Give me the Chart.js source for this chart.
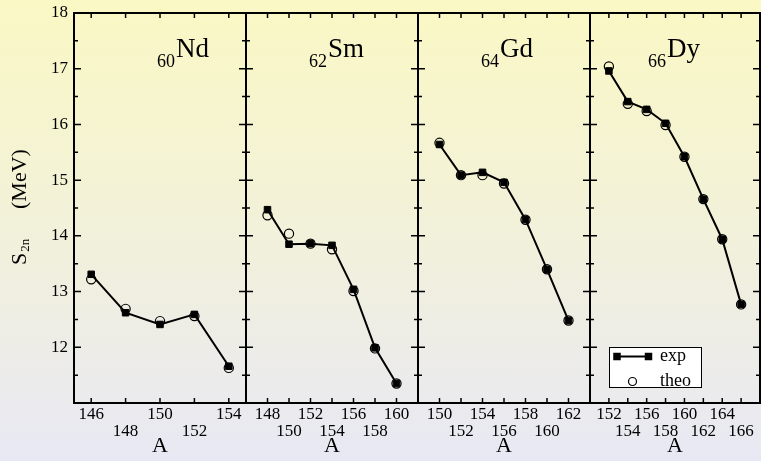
<!DOCTYPE html>
<html><head><meta charset="utf-8">
<script src="https://cdn.jsdelivr.net/npm/chart.js@4/dist/chart.umd.min.js"></script>
<style>
html,body{margin:0;padding:0;width:761px;height:461px;overflow:hidden;}
body{background:linear-gradient(to bottom,#faf8c4 0%,#f2f1da 50%,#e8e8f4 100%);position:relative;}
canvas{position:absolute;left:0;top:0;}
</style></head><body>
<canvas id="c1" width="761" height="461"></canvas>
<canvas id="c2" width="761" height="461"></canvas>
<canvas id="c3" width="761" height="461"></canvas>
<canvas id="c4" width="761" height="461"></canvas>
<script>
// ---- data ----
const ndA = [146,148,150,152,154];
const ndExp = [13.31,12.62,12.41,12.59,11.66];
const ndTheo = [13.22,12.69,12.47,12.56,11.63];
const smA = [148,150,152,154,156,158,160];
const smExp = [14.47,13.85,13.86,13.83,13.04,11.99,11.35];
const smTheo = [14.37,14.04,13.86,13.76,13.01,11.98,11.35];
const gdA = [150,152,154,156,158,160,162];
const gdExp = [15.64,15.09,15.14,14.96,14.29,13.40,12.48];
const gdTheo = [15.67,15.09,15.09,14.94,14.29,13.40,12.48];
const dyA = [152,154,156,158,160,162,164,166];
const dyExp = [16.96,16.41,16.27,16.02,15.42,14.66,13.94,12.77];
const dyTheo = [17.04,16.37,16.24,15.99,15.42,14.66,13.94,12.77];
// ---- ticks ----
const ndTicks = [146,148,150,152,154];
const smTicks = [148,150,152,154,156,158,160];
const gdTicks = [150,152,154,156,158,160,162];
const dyTicks = [152,154,156,158,160,162,164,166];
const yTicks = [12,13,14,15,16,17,18];
const yMinorTicks = [11.5,12.5,13.5,14.5,15.5,16.5,17.5];
const elemSubs = ['60','62','64','66'];
const elemSyms = ['Nd','Sm','Gd','Dy'];
const yTitleMain = 'S', yTitleSub = '2n', yTitleUnit = '(MeV)';
const xTitle = 'A';
const legendLabels = ['exp','theo'];

const FONT = "'Liberation Serif','Times New Roman',serif";

const panels = [
  {id:'c1', A:ndA, exp:ndExp, theo:ndTheo, ticks:ndTicks, min:145, max:155, padL:0, padR:515, labelDx:83, yAxis:true},
  {id:'c2', A:smA, exp:smExp, theo:smTheo, ticks:smTicks, min:146, max:162, padL:246, padR:343, labelDx:63},
  {id:'c3', A:gdA, exp:gdExp, theo:gdTheo, ticks:gdTicks, min:148, max:164, padL:418, padR:171, labelDx:63},
  {id:'c4', A:dyA, exp:dyExp, theo:dyTheo, ticks:dyTicks, min:150, max:168, padL:590, padR:1, labelDx:58, legend:true}
];

function drawSquare(ctx,x,y,s){ctx.fillRect(x-s/2,y-s/2,s,s);}

const framePlugin = {
  id:'frame',
  afterDraw(chart, args, o){
    const ctx = chart.ctx;
    const {left,right,top,bottom} = chart.chartArea;
    const xs = chart.scales.x, ys = chart.scales.y;
    ctx.save();
    ctx.strokeStyle = '#000';
    ctx.lineWidth = 1.5;
    ctx.beginPath();
    o.ticks.forEach(v=>{
      const px = xs.getPixelForValue(v);
      ctx.moveTo(px,bottom); ctx.lineTo(px,bottom-5);
      ctx.moveTo(px,top); ctx.lineTo(px,top+5);
    });
    yTicks.forEach(v=>{
      const py = ys.getPixelForValue(v);
      ctx.moveTo(left,py); ctx.lineTo(left+7,py);
      ctx.moveTo(right,py); ctx.lineTo(right-7,py);
    });
    yMinorTicks.forEach(v=>{
      const py = ys.getPixelForValue(v);
      ctx.moveTo(left,py); ctx.lineTo(left+4,py);
      ctx.moveTo(right,py); ctx.lineTo(right-4,py);
    });
    ctx.stroke();
    ctx.lineWidth = 2;
    ctx.strokeRect(left,top,right-left,bottom-top);
    // element label
    ctx.fillStyle = '#000';
    ctx.textBaseline = 'alphabetic';
    ctx.textAlign = 'left';
    const lx = left + o.labelDx;
    ctx.font = '18px ' + FONT;
    const subW = ctx.measureText(o.sub).width;
    ctx.fillText(o.sub, lx, 67);
    ctx.font = '27px ' + FONT;
    ctx.fillText(o.sym, lx + subW + 1, 57);
    // y title
    if (o.yAxis){
      ctx.save();
      ctx.translate(26, 265);
      ctx.rotate(-Math.PI/2);
      ctx.font = '22px ' + FONT;
      ctx.fillText(yTitleMain, 0, 0);
      const sw = ctx.measureText(yTitleMain).width;
      ctx.font = '13px ' + FONT;
      ctx.fillText(yTitleSub, sw + 1, 3);
      ctx.font = '22px ' + FONT;
      ctx.fillText(yTitleUnit, 56, 0);
      ctx.restore();
    }
    // legend
    if (o.legend){
      const bx = 609, by = 347, bw = 92, bh = 40;
      ctx.fillStyle = '#fff';
      ctx.fillRect(bx,by,bw,bh);
      ctx.lineWidth = 1;
      ctx.strokeStyle = '#000';
      ctx.strokeRect(bx+0.5,by+0.5,bw,bh);
      ctx.fillStyle = '#000';
      ctx.lineWidth = 2;
      ctx.beginPath(); ctx.moveTo(617,356.5); ctx.lineTo(648,356.5); ctx.stroke();
      drawSquare(ctx,617,356.5,7.5); drawSquare(ctx,648.5,356.5,7.5);
      ctx.lineWidth = 1.2;
      ctx.beginPath(); ctx.arc(632.5,381.5,4,0,Math.PI*2); ctx.stroke();
      ctx.font = '18px ' + FONT;
      ctx.fillText(legendLabels[0], 660, 361);
      ctx.fillText(legendLabels[1], 660, 386);
    }
    ctx.restore();
  }
};

panels.forEach((p, k)=>{
  const xTicksArr = p.ticks;
  new Chart(document.getElementById(p.id), {
    type:'scatter',
    data:{
      datasets:[
        {label:legendLabels[0], data:p.A.map((a,i)=>({x:a,y:p.exp[i]})), showLine:true,
         borderColor:'#000', borderWidth:2, backgroundColor:'#000', pointStyle:'rect',
         pointRadius:4.6, pointBorderWidth:1, pointBorderColor:'#000', pointBackgroundColor:'#000', tension:0, order:2},
        {label:legendLabels[1], data:p.A.map((a,i)=>({x:a,y:p.theo[i]})), showLine:false,
         pointStyle:'circle', pointRadius:4.6, pointBorderWidth:1.2, pointBorderColor:'#000',
         pointBackgroundColor:'rgba(0,0,0,0)', order:1}
      ]
    },
    options:{
      responsive:false, animation:false, devicePixelRatio:1,
      layout:{autoPadding:false, padding:{left:p.padL, right:p.padR, top:13, bottom:0}},
      plugins:{legend:{display:false}, tooltip:{enabled:false},
        frame:{ticks:xTicksArr, labelDx:p.labelDx, sub:elemSubs[k], sym:elemSyms[k], yAxis:!!p.yAxis, legend:!!p.legend}},
      scales:{
        x:{type:'linear', min:p.min, max:p.max,
           grid:{display:false, drawTicks:false}, border:{display:false},
           afterBuildTicks:(s)=>{ s.ticks = xTicksArr.map(v=>({value:v})); },
           afterFit:(s)=>{ s.height = 58; s.paddingLeft = 0; s.paddingRight = 0; s.paddingTop = 0; s.paddingBottom = 0; },
           ticks:{autoSkip:false, maxRotation:0, minRotation:0, padding:3, color:'#000',
             font:{family:FONT, size:17, lineHeight:1.02},
             callback:(v, i)=> i % 2 === 0 ? String(v) : ['', String(v)]},
           title:{display:true, text:xTitle, color:'#000', font:{family:FONT, size:22, lineHeight:1.2}, padding:{top:0,bottom:2}}
        },
        y:{type:'linear', min:11, max:18, display:!!p.yAxis,
           grid:{display:false, drawTicks:false}, border:{display:false},
           afterBuildTicks:(s)=>{ s.ticks = yTicks.map(v=>({value:v})); },
           afterFit:(s)=>{ s.width = p.yAxis ? 74 : 0; s.paddingLeft = 0; s.paddingRight = 0; s.paddingTop = 0; s.paddingBottom = 0; },
           ticks:{padding:6, color:'#000', font:{family:FONT, size:17}}
        }
      }
    },
    plugins:[framePlugin]
  });
});
</script>
</body></html>
